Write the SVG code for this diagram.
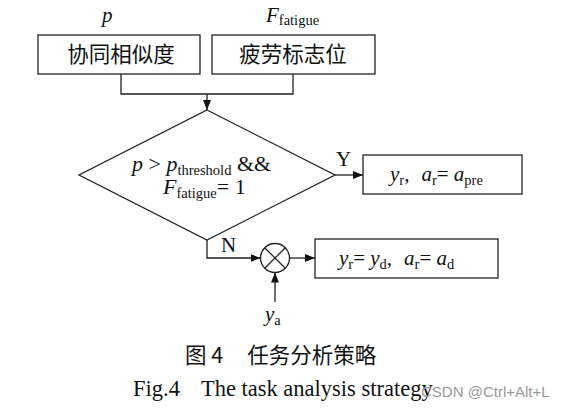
<svg xmlns="http://www.w3.org/2000/svg" width="565" height="408" viewBox="0 0 565 408">
<style>
.box{fill:#fff;stroke:#222;stroke-width:1.3}
.ln{fill:none;stroke:#222;stroke-width:1.3}
.cjk{font-family:"Noto Sans CJK SC",sans-serif;font-size:21.5px;fill:#111}
.tm{font-family:"Liberation Serif",serif;font-size:21px;fill:#111}
.big{font-size:22px}
.cap{font-size:22.5px}
.it{font-style:italic}
.sub{font-size:14.5px}
.wm{font-family:"Liberation Sans",sans-serif;font-size:15px;fill:#999}
</style>
<defs>
<marker id="ah" viewBox="0 0 10 8" refX="10" refY="4" markerWidth="10" markerHeight="8" markerUnits="userSpaceOnUse" orient="auto">
<path d="M0,0 L10,4 L0,8 Z" fill="#111"/>
</marker>
</defs>
<rect width="565" height="408" fill="#fff"/>
<g id="label-p"><text class="tm it" x="102" y="22">p</text></g>
<g id="label-F"><text class="tm" x="266" y="22"><tspan class="it">F</tspan><tspan class="sub" dy="3">fatigue</tspan></text></g>
<g id="node-sim"><rect class="box" x="38" y="35" width="162" height="39"/><text class="cjk" x="121" y="62" text-anchor="middle">协同相似度</text></g>
<g id="node-fatigue"><rect class="box" x="212" y="35" width="163" height="39"/><text class="cjk" x="293" y="62" text-anchor="middle">疲劳标志位</text></g>
<g id="node-decision"><polygon class="box" points="207,110 335,175 207,240 79,175"/>
<text class="tm big" x="132" y="171"><tspan class="it">p</tspan> &gt; <tspan class="it">p</tspan><tspan class="sub" dy="4">threshold</tspan><tspan dy="-4"> &amp;&amp;</tspan></text>
<text class="tm big" x="163" y="194"><tspan class="it">F</tspan><tspan class="sub" dy="4">fatigue</tspan><tspan dy="-4">= 1</tspan></text></g>
<g id="node-yes"><rect class="box" x="363" y="155" width="159" height="39"/>
<text class="tm" x="390" y="181"><tspan class="it">y</tspan><tspan class="sub" dy="4">r</tspan><tspan dy="-4">,</tspan><tspan class="it" dx="12">a</tspan><tspan class="sub" dy="4">r</tspan><tspan dy="-4">= </tspan><tspan class="it">a</tspan><tspan class="sub" dy="4">pre</tspan></text></g>
<g id="node-mult"><circle class="box" cx="275" cy="258" r="14.5"/><path class="ln" d="M264.7,247.7 L285.3,268.3 M285.3,247.7 L264.7,268.3"/></g>
<g id="node-no"><rect class="box" x="315" y="239" width="183" height="39"/>
<text class="tm" x="339" y="265"><tspan class="it">y</tspan><tspan class="sub" dy="4">r</tspan><tspan dy="-4">= </tspan><tspan class="it">y</tspan><tspan class="sub" dy="4">d</tspan><tspan dy="-4">,</tspan><tspan class="it" dx="12">a</tspan><tspan class="sub" dy="4">r</tspan><tspan dy="-4">= </tspan><tspan class="it">a</tspan><tspan class="sub" dy="4">d</tspan></text></g>
<g id="label-ya"><text class="tm" x="265" y="321"><tspan class="it">y</tspan><tspan class="sub" dy="4">a</tspan></text></g>
<g id="connectors">
<path class="ln" d="M121,74 V94 H293 V74"/>
<path class="ln" d="M207,94 V110" marker-end="url(#ah)"/>
<path class="ln" d="M335,175 H363" marker-end="url(#ah)"/>
<path class="ln" d="M207,240 V258 H260.5" marker-end="url(#ah)"/>
<path class="ln" d="M289.5,258 H315" marker-end="url(#ah)"/>
<path class="ln" d="M275,302 V272.5" marker-end="url(#ah)"/>
<text class="tm" x="336" y="166">Y</text>
<text class="tm" x="221" y="252">N</text>
</g>
<g id="caption">
<text class="cjk" x="185" y="363">图 4<tspan dx="24">任务分析策略</tspan></text>
<text class="tm cap" x="133" y="396">Fig.4<tspan dx="21">The task analysis strategy</tspan></text>
<text class="wm" x="421" y="397">CSDN @Ctrl+Alt+L</text>
</g>
</svg>
